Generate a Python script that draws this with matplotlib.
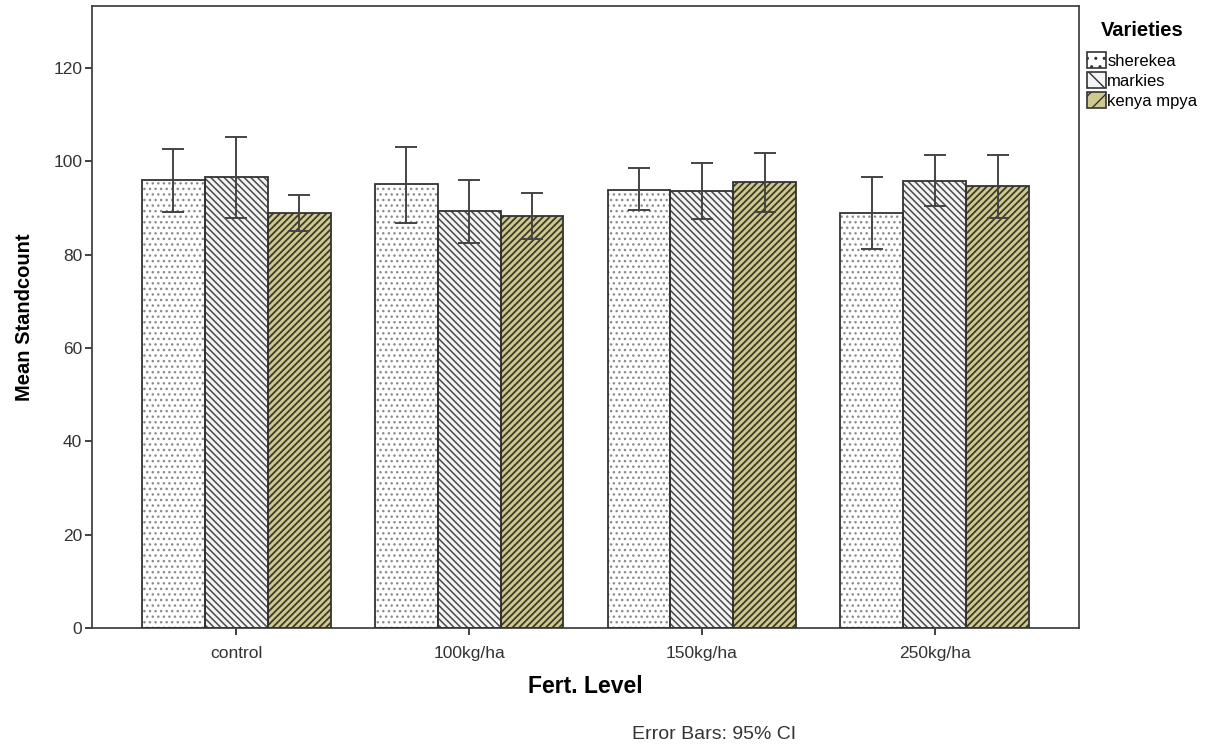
import numpy as np
import matplotlib.pyplot as plt
from matplotlib.patches import Patch

plt.rcParams['font.family'] = ['Liberation Sans', 'DejaVu Sans']

levels = ['control', '100kg/ha', '150kg/ha', '250kg/ha']
varieties = ['sherekea', 'markies', 'kenya mpya']

# mean standcount per fertiliser level
means = {
    'sherekea':   [95.9, 95.1, 93.9, 88.9],
    'markies':    [96.6, 89.4, 93.7, 95.8],
    'kenya mpya': [88.9, 88.3, 95.6, 94.7],
}
# 95% CI bounds
ci_low = {
    'sherekea':   [89.1, 86.8, 89.6, 81.2],
    'markies':    [87.8, 82.4, 87.6, 90.4],
    'kenya mpya': [85.1, 83.4, 89.1, 87.8],
}
ci_high = {
    'sherekea':   [102.6, 103.1, 98.6, 96.6],
    'markies':    [105.2, 96.0, 99.6, 101.4],
    'kenya mpya': [92.8, 93.2, 101.8, 101.4],
}

styles = {
    'sherekea':   dict(face='white', hatch='...', hcolor='#8c8c8c', hlw=1.0),
    'markies':    dict(face='#f4f4f4', hatch='\\' * 5, hcolor='#4a4a4a', hlw=1.1),
    'kenya mpya': dict(face='#cfc98f', hatch='/' * 5, hcolor='#3c3a28', hlw=1.3),
}

fig = plt.figure(figsize=(12.17, 7.44), dpi=100)
ax = fig.add_axes([0.0756, 0.156, 0.811, 0.836])

x = np.arange(len(levels))
w = 0.27
edge = '#333333'
for i, v in enumerate(varieties):
    pos = x + (i - 1) * w
    m = np.array(means[v])
    lo = m - np.array(ci_low[v])
    hi = np.array(ci_high[v]) - m
    st = styles[v]
    # hatch layer, then outline on top
    with plt.rc_context({'hatch.linewidth': st['hlw']}):
        ax.bar(pos, m, w, color=st['face'], hatch=st['hatch'],
               edgecolor=st['hcolor'], linewidth=0, zorder=2)
    ax.bar(pos, m, w, color='none', edgecolor=edge, linewidth=1.3, zorder=3)
    ax.errorbar(pos, m, yerr=[lo, hi], fmt='none', ecolor='#444444',
                elinewidth=1.4, capsize=8, capthick=1.4, zorder=4)

ax.set_xlim(-0.62, 3.62)
ax.set_ylim(0, 133.3)
ax.set_yticks(np.arange(0, 121, 20))
ax.set_xticks(x)
ax.set_xticklabels(levels)
ax.tick_params(axis='both', labelsize=12.5, colors='#333333', length=5, width=1.3)
ax.tick_params(axis='y', pad=2)
ax.tick_params(axis='x', pad=8)
for s in ax.spines.values():
    s.set_color('#444444')
    s.set_linewidth(1.3)

ax.set_ylabel('Mean Standcount', fontsize=14.5, fontweight='bold', labelpad=14)
ax.set_xlabel('Fert. Level', fontsize=16.5, fontweight='bold', labelpad=10)
fig.text(0.587, 0.002, 'Error Bars: 95% CI', fontsize=14, color='#333333',
         ha='center', va='bottom')

handles = []
for v in varieties:
    st = styles[v]
    with plt.rc_context({'hatch.linewidth': st['hlw']}):
        handles.append(Patch(facecolor=st['face'], hatch=st['hatch'][:2],
                             edgecolor='#333333', linewidth=1.2))
leg = ax.legend(handles, varieties, title='Varieties', loc='upper left',
                bbox_to_anchor=(1.0, 0.99), frameon=False, fontsize=12,
                handlelength=1.1, handleheight=1.1, handletextpad=0.1,
                labelspacing=0.2, borderaxespad=0.2, borderpad=0.3)
leg.get_title().set_fontweight('bold')
leg.get_title().set_fontsize(14.5)
leg._legend_box.sep = 9

fig.savefig('out.png', dpi=100)
